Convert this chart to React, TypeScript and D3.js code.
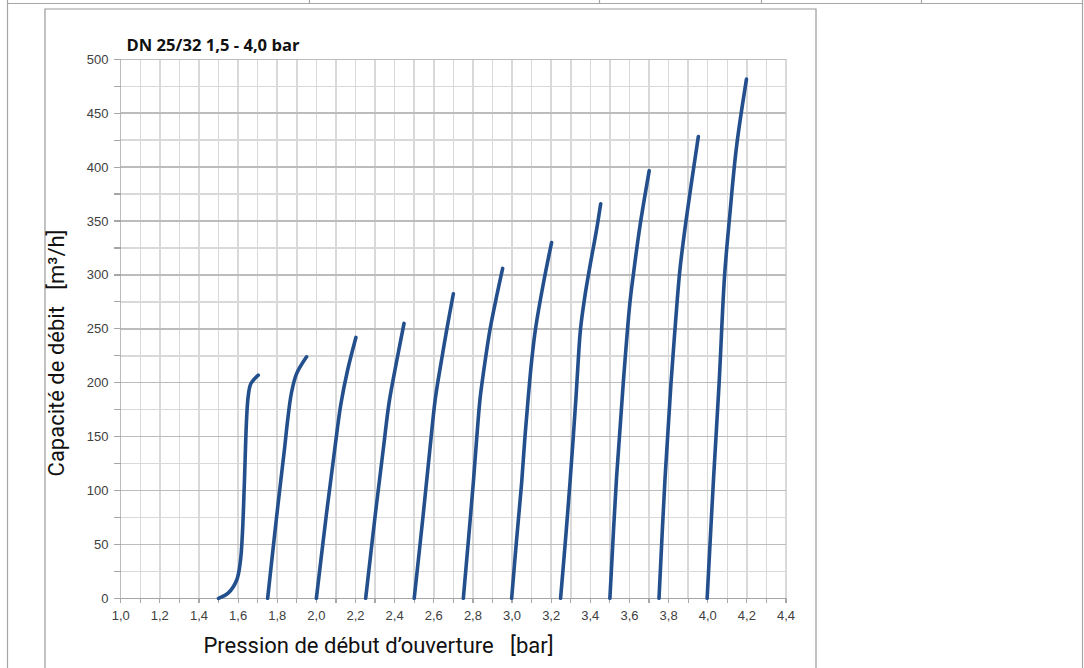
import React from "react";
import * as d3 from "d3";

// Opening pressure settings (bar) for each curve
const settings = [1.5, 1.75, 2.0, 2.25, 2.5, 2.75, 3.0, 3.25, 3.5, 3.75, 4.0];

// Pressure (bar) along each curve
const pressure: number[][] = [
  [1.5, 1.55, 1.593, 1.612, 1.622, 1.632, 1.644, 1.652, 1.665, 1.703],
  [1.751, 1.797, 1.838, 1.853, 1.872, 1.898, 1.95],
  [2.0, 2.05, 2.095, 2.125, 2.16, 2.202],
  [2.252, 2.3, 2.343, 2.372, 2.405, 2.448],
  [2.5, 2.545, 2.58, 2.607, 2.633, 2.666, 2.7],
  [2.751, 2.777, 2.802, 2.82, 2.837, 2.856, 2.887, 2.921, 2.952],
  [2.998, 3.023, 3.049, 3.066, 3.083, 3.1, 3.12, 3.16, 3.202],
  [3.248, 3.273, 3.296, 3.313, 3.327, 3.338, 3.35, 3.372, 3.4, 3.432, 3.453],
  [3.5, 3.534, 3.568, 3.602, 3.619, 3.653, 3.701],
  [3.751, 3.782, 3.812, 3.835, 3.858, 3.892, 3.952],
  [3.997, 4.03, 4.058, 4.086, 4.112, 4.147, 4.198],
];

// Flow capacity (m³/h) along each curve
const flow: number[][] = [
  [0, 5, 17, 35, 60, 107, 169, 188, 199, 207],
  [0, 76, 140, 165, 190, 208, 224],
  [0, 76, 140, 180, 212, 242],
  [0, 76, 140, 182, 215, 255],
  [0, 76, 138, 184, 214, 249, 282.5],
  [0, 54, 107, 150, 186, 212, 249, 280, 306],
  [0, 54, 107, 150, 187, 220, 250, 292, 330],
  [0, 54, 107, 150, 187, 220, 250, 280, 310, 342, 366],
  [0, 112, 199, 273.6, 299, 344.5, 396.7],
  [0, 112, 199, 255, 305, 354, 428.4],
  [0, 112, 199, 299, 354, 418.7, 481.6],
];

const xTickValues = [1.0, 1.2, 1.4, 1.6, 1.8, 2.0, 2.2, 2.4, 2.6, 2.8, 3.0, 3.2, 3.4, 3.6, 3.8, 4.0, 4.2, 4.4];
const yTickValues = [0, 50, 100, 150, 200, 250, 300, 350, 400, 450, 500];

const title = "DN 25/32 1,5 - 4,0 bar";
const xTitle = "Pression de début d\u2019ouverture \u00a0 [bar]";
const yTitle = "Capacité de débit \u00a0 [m³/h]";

const W = 1084;
const H = 668;

export default function App() {
  const x = d3.scaleLinear().domain([1.0, 4.4]).range([120.7, 786]);
  const y = d3.scaleLinear().domain([0, 500]).range([598.3, 59.3]);

  const xMinor = d3.range(10, 45, 1).map((v) => v / 10);
  const yMinor = d3.range(0, 525, 25);
  const fmt = (v: number) => d3.format(".1f")(v).replace(".", ",");

  const line = d3
    .line<[number, number]>()
    .x((d) => x(d[0]))
    .y((d) => y(d[1]))
    .curve(d3.curveCatmullRom.alpha(0.5));

  const curvePoints = (i: number) =>
    pressure[i].map((p, j) => [p, flow[i][j]] as [number, number]);

  const labelFont = "Liberation Sans, Arial, sans-serif";

  return (
    <svg
      width={W}
      height={H}
      style={{ position: "absolute", left: 0, top: 0, display: "block" }}
      viewBox={`0 0 ${W} ${H}`}
    >
      <rect x={0} y={0} width={W} height={H} fill="#fff" />
      {/* surrounding table frame */}
      <g stroke="#a6a6a6" strokeWidth={1.2} fill="none">
        <line x1={7.5} y1={3.5} x2={1082.5} y2={3.5} />
        <line x1={7.5} y1={0} x2={7.5} y2={H} />
        <line x1={1082.5} y1={0} x2={1082.5} y2={H} />
        {[309.5, 599.5, 761.5, 921.5].map((sx) => (
          <line key={sx} x1={sx} y1={0} x2={sx} y2={3.5} />
        ))}
        <polyline points={`45,${H} 45,9 816,9 816,${H}`} stroke="#999" />
      </g>

      {/* grid */}
      <g shapeRendering="crispEdges">
        {xMinor.map((v) => (
          <line key={"gx" + v} x1={x(v)} x2={x(v)} y1={y(500)} y2={y(0)} stroke="#d9d9d9" strokeWidth={1.5} />
        ))}
        {yMinor.map((v) => (
          <line
            key={"gy" + v}
            x1={x(1.0)}
            x2={x(4.4)}
            y1={y(v)}
            y2={y(v)}
            stroke={v % 50 === 0 ? "#bcbcbc" : "#d9d9d9"}
            strokeWidth={1.5}
          />
        ))}
        {/* axes */}
        <line x1={x(1.0)} x2={x(1.0)} y1={y(500)} y2={y(0)} stroke="#bcbcbc" strokeWidth={1.5} />
        <line x1={x(1.0)} x2={x(4.4)} y1={y(0)} y2={y(0)} stroke="#a6a6a6" strokeWidth={1.5} />
        {xMinor.map((v) => (
          <line key={"tx" + v} x1={x(v)} x2={x(v)} y1={y(0)} y2={y(0) + 5} stroke="#a6a6a6" strokeWidth={1.2} />
        ))}
        {yMinor.map((v) => (
          <line key={"ty" + v} x1={x(1.0) - 7} x2={x(1.0)} y1={y(v)} y2={y(v)} stroke="#a6a6a6" strokeWidth={1.2} />
        ))}
      </g>

      {/* tick labels */}
      <g fontFamily={labelFont} fontSize={13} fill="#404040">
        {xTickValues.map((v) => (
          <text key={"lx" + v} x={x(v)} y={619.5} textAnchor="middle">
            {fmt(v)}
          </text>
        ))}
        {yTickValues.map((v) => (
          <text key={"ly" + v} x={108.5} y={y(v)} dy="0.35em" textAnchor="end">
            {v}
          </text>
        ))}
      </g>

      {/* curves */}
      <g fill="none" stroke="#23508c" strokeWidth={3.6} strokeLinecap="round" strokeLinejoin="round">
        {settings.map((s, i) => (
          <path key={"c" + s} d={line(curvePoints(i)) || ""} />
        ))}
      </g>

      {/* titles */}
      <text
        x={126.5}
        y={51}
        fontFamily="Open Sans, sans-serif"
        fontWeight={700}
        fontSize={16.5}
        textLength={173}
        lengthAdjust="spacingAndGlyphs"
        fill="#111"
      >
        {title}
      </text>
      <text x={378.5} y={653} textAnchor="middle" fontFamily="Roboto, sans-serif" fontSize={22} fill="#111">
        {xTitle}
      </text>
      <text
        transform={`translate(64,353) rotate(-90)`}
        textAnchor="middle"
        fontFamily="Roboto, sans-serif"
        fontSize={22}
        fill="#111"
      >
        {yTitle}
      </text>
    </svg>
  );
}
